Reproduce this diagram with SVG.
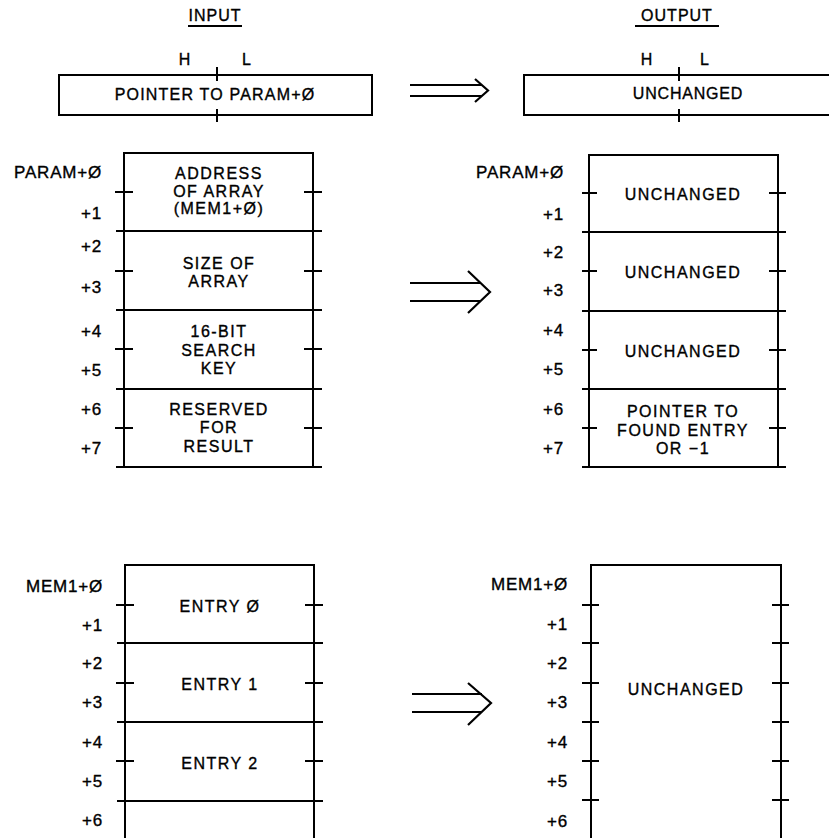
<svg xmlns="http://www.w3.org/2000/svg" width="829" height="838" viewBox="0 0 829 838">
<style>
.ln{stroke:#000;stroke-width:2;fill:none;stroke-linecap:butt}
.tk{stroke:#000;stroke-width:2;fill:none}
.t{font-family:"Liberation Sans",Arial,Helvetica,sans-serif;font-size:16px;fill:#000;stroke:#000;stroke-width:0.35}
.c{text-anchor:middle;letter-spacing:1.5px}
.r{text-anchor:end;font-size:17px;letter-spacing:0.8px}
.h{text-anchor:middle;font-size:16px;letter-spacing:1px}
.ar{stroke:#000;stroke-width:2.2;fill:none;stroke-linejoin:miter}
</style>
<rect width="829" height="838" fill="#fff"/>

<g id="titles">
  <text class="t h" x="215" y="21">INPUT</text>
  <line class="ln" x1="188" y1="26" x2="242" y2="26" stroke-width="1.2"/>
  <text class="t h" x="677" y="21">OUTPUT</text>
  <line class="ln" x1="635" y1="26" x2="719" y2="26" stroke-width="1.2"/>
</g>

<g id="reg-in">
  <text class="t h" x="185" y="65">H</text>
  <text class="t h" x="247" y="65">L</text>
  <rect class="ln" x="59" y="75" width="313" height="40"/>
  <line class="tk" x1="217" y1="67" x2="217" y2="81"/>
  <line class="tk" x1="217" y1="109" x2="217" y2="122"/>
  <text class="t c" x="215" y="100" style="letter-spacing:1.2px">POINTER TO PARAM+Ø</text>
</g>

<g id="reg-out">
  <text class="t h" x="647" y="65">H</text>
  <text class="t h" x="705" y="65">L</text>
  <rect class="ln" x="524" y="75" width="314" height="40"/>
  <line class="tk" x1="679" y1="67" x2="679" y2="81"/>
  <line class="tk" x1="679" y1="109" x2="679" y2="122"/>
  <text class="t c" x="688" y="99" style="letter-spacing:0.8px">UNCHANGED</text>
</g>

<g id="param-in">
  <text class="t r" x="102" y="178">PARAM+Ø</text>
  <text class="t r" x="102" y="219">+1</text>
  <text class="t r" x="102" y="252">+2</text>
  <text class="t r" x="102" y="293">+3</text>
  <text class="t r" x="102" y="337">+4</text>
  <text class="t r" x="102" y="376">+5</text>
  <text class="t r" x="102" y="415">+6</text>
  <text class="t r" x="102" y="454">+7</text>
  <path class="ln" d="M124,467 V153 H313 V467"/>
  <path class="ln" d="M116,231 H322 M116,310 H322 M116,389 H322 M116,467 H322"/>
  <path class="tk" d="M115,192 H133 M304,192 H322 M115,271 H133 M304,271 H322 M115,349 H133 M304,349 H322 M115,428 H133 M304,428 H322"/>
  <text class="t c" x="219" y="179">ADDRESS</text>
  <text class="t c" x="219" y="197">OF ARRAY</text>
  <text class="t c" x="219" y="214">(MEM1+Ø)</text>
  <text class="t c" x="219" y="269">SIZE OF</text>
  <text class="t c" x="219" y="287">ARRAY</text>
  <text class="t c" x="219" y="337">16-BIT</text>
  <text class="t c" x="219" y="356">SEARCH</text>
  <text class="t c" x="219" y="374">KEY</text>
  <text class="t c" x="219" y="415">RESERVED</text>
  <text class="t c" x="219" y="433">FOR</text>
  <text class="t c" x="219" y="452">RESULT</text>
</g>

<g id="param-out">
  <text class="t r" x="564" y="178">PARAM+Ø</text>
  <text class="t r" x="564" y="220">+1</text>
  <text class="t r" x="564" y="258">+2</text>
  <text class="t r" x="564" y="296">+3</text>
  <text class="t r" x="564" y="336">+4</text>
  <text class="t r" x="564" y="375">+5</text>
  <text class="t r" x="564" y="415">+6</text>
  <text class="t r" x="564" y="454">+7</text>
  <path class="ln" d="M589,467 V155 H778 V467"/>
  <path class="ln" d="M582,232 H786 M582,311 H786 M582,389 H786 M582,467 H786"/>
  <path class="tk" d="M582,193 H597 M769,193 H786 M582,271 H597 M769,271 H786 M582,350 H597 M769,350 H786 M582,428 H597 M769,428 H786"/>
  <text class="t c" x="683" y="200">UNCHANGED</text>
  <text class="t c" x="683" y="278">UNCHANGED</text>
  <text class="t c" x="683" y="357">UNCHANGED</text>
  <text class="t c" x="683" y="417">POINTER TO</text>
  <text class="t c" x="683" y="436">FOUND ENTRY</text>
  <text class="t c" x="683" y="454">OR −1</text>
</g>

<g id="mem-in">
  <text class="t r" x="103" y="592">MEM1+Ø</text>
  <text class="t r" x="103" y="631">+1</text>
  <text class="t r" x="103" y="669">+2</text>
  <text class="t r" x="103" y="708">+3</text>
  <text class="t r" x="103" y="748">+4</text>
  <text class="t r" x="103" y="787">+5</text>
  <text class="t r" x="103" y="826">+6</text>
  <path class="ln" d="M125,845 V565 H314 V845"/>
  <path class="ln" d="M117,643 H323 M117,722 H323 M117,801 H323"/>
  <path class="tk" d="M116,605 H134 M305,605 H323 M116,683 H134 M305,683 H323 M116,761 H134 M305,761 H323 M116,840 H134 M305,840 H323"/>
  <text class="t c" x="220" y="612">ENTRY Ø</text>
  <text class="t c" x="220" y="690">ENTRY 1</text>
  <text class="t c" x="220" y="769">ENTRY 2</text>
</g>

<g id="mem-out">
  <text class="t r" x="568" y="590">MEM1+Ø</text>
  <text class="t r" x="568" y="630">+1</text>
  <text class="t r" x="568" y="669">+2</text>
  <text class="t r" x="568" y="708">+3</text>
  <text class="t r" x="568" y="748">+4</text>
  <text class="t r" x="568" y="787">+5</text>
  <text class="t r" x="568" y="827">+6</text>
  <path class="ln" d="M591,845 V565 H781 V845"/>
  <path class="tk" d="M582,605 H599 M772,605 H789 M582,643 H599 M772,643 H789 M582,683 H599 M772,683 H789 M582,722 H599 M772,722 H789 M582,761 H599 M772,761 H789 M582,800 H599 M772,800 H789 M582,839 H599 M772,839 H789"/>
  <text class="t c" x="686" y="695">UNCHANGED</text>
</g>

<g id="connectors">
  <path class="ar" d="M410,85 H482 M410,96 H482 M475,79 L488,90.5 L475,102"/>
  <path class="ar" d="M410,283 H481 M410,301 H481 M468,271 L490,292 L468,313"/>
  <path class="ar" d="M412,694 H482 M412,712 H482 M468,683 L491,703 L468,725"/>
</g>
</svg>
